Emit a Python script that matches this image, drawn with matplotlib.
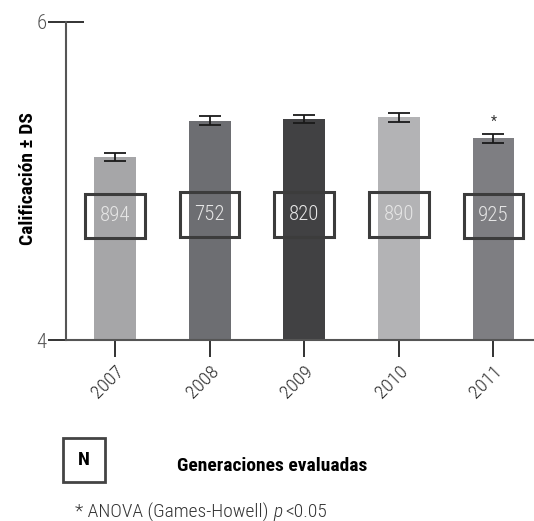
import matplotlib.pyplot as plt
from matplotlib.patches import Rectangle

# Datos
generaciones = ['2007', '2008', '2009', '2010', '2011']
calificacion = [5.15, 5.38, 5.39, 5.40, 5.27]
ds = [0.026, 0.027, 0.027, 0.027, 0.028]
n_alumnos = [894, 752, 820, 890, 925]
colores = ['#a6a6a8', '#6d6e72', '#414143', '#b3b3b5', '#7e7e82']

fuentes = ['Roboto Condensed', 'Archivo Narrow', 'Liberation Sans Narrow', 'DejaVu Sans']
plt.rcParams['font.family'] = fuentes

fig = plt.figure(figsize=(5.34, 5.21), dpi=100)
ax = fig.add_axes([0.1236, 0.3474, 0.8764, 0.6104])

x = range(len(generaciones))
ax.bar(x, calificacion, width=0.44, color=colores)
ax.errorbar(x, calificacion, yerr=ds, fmt='none', ecolor='#1a1a1a',
            elinewidth=1.3, capsize=8, capthick=1.3)

# asterisco en 2011
ax.text(4, calificacion[4] + ds[4] + 0.03, '*', ha='center', va='bottom',
        fontsize=10, color='#333333')

# cajas de N
for i, n in enumerate(n_alumnos):
    yc = 4.78 if i in (0, 4) else 4.79
    ax.add_patch(Rectangle((i - 0.315, yc - 0.14), 0.63, 0.28, fill=False,
                           edgecolor='#3c3c3c', linewidth=2.2, zorder=3))
    ax.text(i, yc, str(n), ha='center', va='center', fontsize=15,
            fontweight='light', color='#e6e6e6', zorder=4)

ax.set_ylim(4, 6)
ax.set_xlim(-0.52, 4.43)
ax.set_yticks([4, 6])
ax.set_xticks(list(x))
ax.set_xticklabels(generaciones, rotation=45, ha='right', rotation_mode='anchor',
                   fontsize=14, fontweight='light', color='#2a2a2a')
for lbl in ax.get_yticklabels():
    lbl.set_fontweight('light')
ax.tick_params(axis='y', direction='inout', length=26, width=1.3,
               labelsize=15, labelcolor='#555555', color='#222222', pad=1)
ax.tick_params(axis='x', direction='out', length=12, width=1.3, color='#222222', pad=4)

for s in ['top', 'right']:
    ax.spines[s].set_visible(False)
for s in ['left', 'bottom']:
    ax.spines[s].set_color('#555555')
    ax.spines[s].set_linewidth(1.5)

fig.text(0.052, 0.658, 'Calificación ± DS', rotation=90, ha='center', va='center',
         fontsize=14, fontweight='bold')
fig.text(0.509, 0.106, 'Generaciones evaluadas', ha='center', va='center',
         fontsize=14, fontweight='bold')

# caja N
fig.patches.append(Rectangle((63 / 534, 1 - 482 / 521), 42 / 534, 44 / 521,
                             transform=fig.transFigure, fill=False,
                             edgecolor='#444444', linewidth=2))
fig.text(84 / 534, 1 - 460 / 521, 'N', ha='center', va='center',
         fontsize=14, fontweight='bold')

# nota al pie
t1 = fig.text(75 / 534, 1 - 512 / 521, '* ANOVA (Games-Howell) ', ha='left',
              va='center', fontsize=14, fontweight='light', color='#333333')
r = fig.canvas.get_renderer()
bb = t1.get_window_extent(renderer=r)
x2 = bb.x1 / (fig.get_figwidth() * fig.dpi)
t2 = fig.text(x2, 1 - 512 / 521, 'p', ha='left', va='center', fontsize=14,
              fontweight='light', fontstyle='italic', color='#333333')
bb2 = t2.get_window_extent(renderer=r)
x3 = bb2.x1 / (fig.get_figwidth() * fig.dpi) + 0.006
fig.text(x3, 1 - 512 / 521, '<0.05', ha='left', va='center', fontsize=14,
         fontweight='light', color='#333333')

fig.savefig('out.png', dpi=100)
